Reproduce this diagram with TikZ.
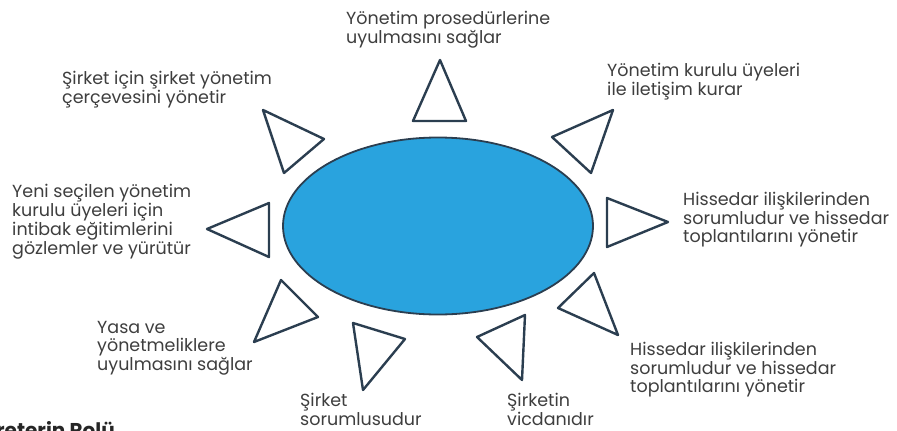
\documentclass[tikz,border=0pt]{standalone}
\usepackage{fontspec}
\setmainfont{Poppins}
\usetikzlibrary{positioning,shapes.geometric}
\definecolor{SkyFill}{RGB}{41,163,222}
\definecolor{NavyLine}{RGB}{43,62,80}
\definecolor{TextGray}{RGB}{62,62,62}

\begin{document}
\begin{tikzpicture}[x=1pt,y=-1pt,
    lbl/.style={anchor=base west,align=left,inner sep=0pt,text=TextGray,
      font=\fontsize{17.5}{17.5}\selectfont},
    ray/.style={draw=NavyLine,line width=2.4pt,line join=round}]
      \useasboundingbox (0,0) rectangle (897,431);
      \clip (0,0) rectangle (897,431);
      \node[ellipse,draw=NavyLine,fill=SkyFill,line width=1.8pt,inner sep=0pt,
        minimum width=310pt,minimum height=177pt] (core) at (438,226) {};
      \foreach \a/\b/\c in {{440,60}/{413,121}/{466,121},
          {613,110}/{552,137}/{591,173},{263,110}/{324,139}/{284,173},
          {668,222}/{607,198}/{607,247},{207,229}/{269,203}/{269,257},
          {618,335}/{594,273}/{558,308},{254,342}/{281,280}/{318,317},
          {363,390}/{353,323}/{405,339},{522,380}/{525,315}/{477,337}}
        \draw[ray] (\a)--(\b)--(\c)--cycle;
      % base anchor = baseline of the last line
      \node[lbl] (proc) at (346,43) {Yönetim prosedürlerine\\uyulmasını sağlar};
      \node[lbl] (board) at (607,95) {Yönetim kurulu üyeleri\\ile iletişim kurar};
      \node[lbl] (frame) at (62,103) {Şirket için şirket yönetim\\çerçevesini yönetir};
      \node[lbl] (orient) at (12,254) {Yeni seçilen yönetim\\kurulu üyeleri için\\intibak eğitimlerini\\gözlemler ve yürütür};
      \node[lbl] (share) at (683,242) {Hissedar ilişkilerinden\\sorumludur ve hissedar\\toplantılarını yönetir};
      \node[lbl] (law) at (97,370) {Yasa ve\\yönetmeliklere\\uyulmasını sağlar};
      \node[lbl] (share2) at (630,392) {Hissedar ilişkilerinden\\sorumludur ve hissedar\\toplantılarını yönetir};
      \node[lbl] (resp) at (300,425) {Şirket\\sorumlusudur};
      \node[lbl] (consc) at (507,425) {Şirketin\\vicdanıdır};
      \node[lbl,anchor=base east,text=black!85,font=\bfseries\fontsize{20}{20}\selectfont] (title) at (115,437) {Sekreterin Rolü};
    \end{tikzpicture}
\end{document}
